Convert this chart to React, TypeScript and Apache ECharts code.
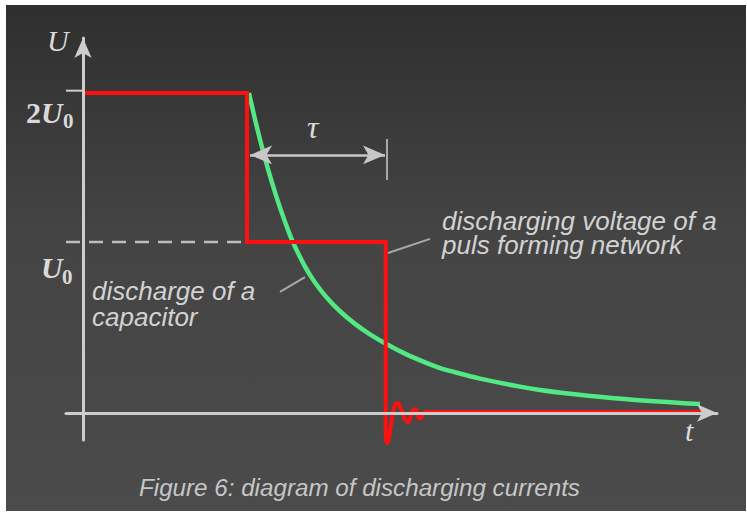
import React, { useEffect, useRef } from 'react';
import * as echarts from 'echarts';

// Time axis (t, arbitrary units) and voltage axis (in units of U0)
const stepT = [0, 16.4, 16.4, 30.27, 30.27];
const stepU = [1.871, 1.871, 1.0, 1.0, -0.1];

const ringT = [30.27, 30.3, 30.45, 30.65, 30.85, 31.1, 31.45, 31.8, 32.2, 32.5, 32.8, 33.1, 33.35, 33.65, 33.9, 34.2, 62.7];
const ringU = [-0.1, -0.16, -0.175, -0.13, -0.05, 0.03, 0.058, 0.025, -0.035, -0.053, -0.015, 0.022, 0.015, -0.035, -0.02, 0.006, 0.006];

const capT = [16.6, 17.3, 18.1, 18.9, 19.7, 20.5, 21.0, 22.2, 23.2, 24.3, 25.7, 27.2, 28.7, 30.2, 32.2, 34.2, 35.7, 36.7, 39.7, 43.7, 45.7, 48.7, 54.7, 61.7];
const capU = [1.871, 1.693, 1.51, 1.347, 1.201, 1.071, 0.998, 0.856, 0.763, 0.68, 0.595, 0.521, 0.46, 0.408, 0.347, 0.296, 0.263, 0.246, 0.201, 0.154, 0.135, 0.113, 0.079, 0.052];

const dashT = [-1.7, 16.4];
const dashU = [1.0, 1.0];

const tickT = [-1.7, 0];
const tickU = [1.885, 1.885];

// tau arrow, tau end marker, leader lines
const tauT = [16.7, 30.2];
const tauU = 1.509;
const tauEndT = 30.4;
const tauEndU = [1.602, 1.363];
const leaderCapT = [19.7, 22.2];
const leaderCapU = [0.708, 0.795];
const leaderPfnT = [30.5, 34.7];
const leaderPfnU = [0.936, 1.018];

const annCap = ['discharge of a', 'capacitor'];
const annPfn = ['discharging voltage of a', 'puls forming network'];
const caption = 'Figure 6: diagram of discharging currents';
const axisNames = ['U', 't'];

const AXIS = '#cdcdcd';
const RED = '#ff1010';
const GREEN = '#52e884';
const LABEL = '#dadada';
const ANN = '#d2d2d2';

const pairs = (xs: number[], ys: number[]) => xs.map((x, i) => [x, ys[i]]);

export default function App() {
  const ref = useRef<HTMLDivElement>(null);
  useEffect(() => {
    if (!ref.current) return;
    const chart = echarts.init(ref.current, null, { renderer: 'svg' });
    const serif = '"Liberation Serif", "DejaVu Serif", serif';
    const sans = '"Liberation Sans", Arial, sans-serif';
    const txt = (text: string, x: number, y: number, font: string, fill: string, extra: any = {}) => ({
      type: 'text',
      silent: true,
      z: 10,
      style: { text, x, y, font, fill, align: 'left', verticalAlign: 'middle', textAlign: 'left', textVerticalAlign: 'middle', ...extra },
    });
    const option: any = {
      animation: false,
      backgroundColor: '#ffffff',
      grid: { left: 66, right: 30, top: 38, bottom: 72 },
      xAxis: {
        type: 'value', min: -1.7, max: 63.4, z: 5,
        axisLine: { onZero: true, symbol: ['none', 'arrow'], symbolSize: [13, 20], lineStyle: { color: AXIS, width: 3 } },
        axisTick: { show: false }, axisLabel: { show: false }, splitLine: { show: false },
      },
      yAxis: {
        type: 'value', min: -0.158, max: 2.193, z: 5,
        axisLine: { onZero: true, symbol: ['none', 'arrow'], symbolSize: [13, 20], lineStyle: { color: AXIS, width: 3 } },
        axisTick: { show: false }, axisLabel: { show: false }, splitLine: { show: false },
      },
      series: [
        {
          type: 'line', name: 'ref', data: pairs(dashT, dashU), symbol: 'none', silent: true, z: 1,
          lineStyle: { color: '#bdbdbd', width: 2.5, type: [14, 9] },
          markLine: {
            silent: true, symbol: ['none', 'none'], label: { show: false },
            lineStyle: { color: '#a8a8a8', width: 2, type: 'solid' },
            data: [
              [{ coord: [leaderCapT[0], leaderCapU[0]] }, { coord: [leaderCapT[1], leaderCapU[1]] }],
              [{ coord: [leaderPfnT[0], leaderPfnU[0]] }, { coord: [leaderPfnT[1], leaderPfnU[1]] }],
              [{ coord: [tauEndT, tauEndU[0]] }, { coord: [tauEndT, tauEndU[1]] }],
            ],
          },
        },
        {
          type: 'line', name: 'tick', data: pairs(tickT, tickU), symbol: 'none', silent: true, z: 1,
          lineStyle: { color: AXIS, width: 2 },
          markLine: {
            silent: true, symbol: ['arrow', 'arrow'], symbolSize: [14, 22], label: { show: false },
            lineStyle: { color: '#c8c8c8', width: 2.5, type: 'solid' },
            data: [[{ coord: [tauT[0], tauU] }, { coord: [tauT[1], tauU] }]],
          },
        },
        {
          type: 'line', name: 'capacitor', data: pairs(capT, capU), symbol: 'none', smooth: 0.3, z: 2,
          lineStyle: { color: GREEN, width: 4.5 },
        },
        {
          type: 'line', name: 'pfn', data: pairs(stepT, stepU), symbol: 'none', z: 3, clip: false,
          lineStyle: { color: RED, width: 4, join: 'miter' },
        },
        {
          type: 'line', name: 'ring', data: pairs(ringT, ringU), symbol: 'none', smooth: 0.35, z: 3, clip: false,
          lineStyle: { color: RED, width: 4 },
        },
      ],
      graphic: [
        {
          type: 'rect', silent: true, z: -100,
          shape: { x: 6, y: 5, width: 740, height: 506 },
          style: {
            fill: new echarts.graphic.LinearGradient(0, 0, 0, 1, [
              { offset: 0, color: '#2f2f2f' },
              { offset: 0.45, color: '#444444' },
              { offset: 1, color: '#4b4b4b' },
            ]),
          },
        },
        txt(axisNames[0], 47, 40, `italic 30px ${serif}`, LABEL),
        {
          type: 'text', silent: true, z: 10,
          style: {
            text: '{n|2}{u|U}', x: 26, y: 112, fill: LABEL,
            align: 'left', verticalAlign: 'middle', textAlign: 'left', textVerticalAlign: 'middle',
            rich: {
              n: { font: `bold 30px ${serif}`, fill: LABEL },
              u: { font: `italic bold 30px ${serif}`, fill: LABEL },
            },
          },
        },
        txt('0', 63, 121, `bold 21px ${serif}`, LABEL),
        txt('U', 41, 267, `italic bold 30px ${serif}`, LABEL),
        txt('0', 62, 277, `bold 21px ${serif}`, LABEL),
        txt(axisNames[1], 685, 430, `italic 30px ${serif}`, LABEL),
        txt('τ', 307, 127, `italic 32px ${serif}`, LABEL),
        txt(annCap.join('\n'), 92, 278, `italic 26px ${sans}`, ANN, { verticalAlign: 'top', textVerticalAlign: 'top', lineHeight: 26 }),
        txt(annPfn.join('\n'), 442, 209, `italic 26px ${sans}`, ANN, { verticalAlign: 'top', textVerticalAlign: 'top', lineHeight: 24 }),
        txt(caption, 139, 487, `italic 24.2px ${sans}`, '#c6c6c6'),
      ],
    };
    chart.setOption(option);
    return () => chart.dispose();
  }, []);
  return (
    <div
      ref={ref}
      style={{ position: 'fixed', left: 0, top: 0, width: 747, height: 512 }}
    />
  );
}
